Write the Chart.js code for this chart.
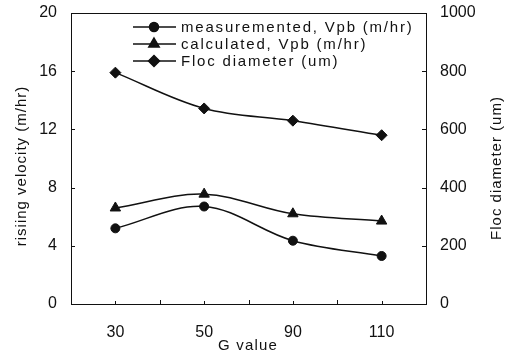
<!DOCTYPE html>
<html>
<head>
<meta charset="utf-8">
<script src="https://cdn.jsdelivr.net/npm/chart.js@4.4.1/dist/chart.umd.min.js"></script>
<style>
  html, body { margin: 0; padding: 0; background: #fff; }
  #chart { display: block; }
</style>
</head>
<body>
<canvas id="chart" width="508" height="356"></canvas>
<script>
// values
const gValues = ['30', '50', '90', '110'];
const measuredVpb = [5.2, 6.7, 4.35, 3.3];
const calculatedVpb = [6.6, 7.55, 6.2, 5.7];
const flocDiameter = [795, 672, 630, 580];

const seriesLabels = ['measuremented, Vpb (m/hr)', 'calculated, Vpb (m/hr)', 'Floc diameter (um)'];
const pointStyles = ['circle', 'triangle', 'rectRot'];
const pointSizes = [4.5, 6, 5.5];

const ink = '#111';
const fontFamily = '"Liberation Sans", Arial, sans-serif';

// frame, inward ticks, legend and axis titles
const decorations = {
    id: 'decorations',
    afterDraw(chart) {
        const ctx = chart.ctx;
        const area = chart.chartArea;
        const x = chart.scales.x, y = chart.scales.y, y1 = chart.scales.y1;

        ctx.save();
        ctx.strokeStyle = ink;
        ctx.lineWidth = 1;
        ctx.strokeRect(Math.round(area.left) + 0.5, Math.round(area.top) + 0.5,
            Math.round(area.right - area.left), Math.round(area.bottom - area.top));

        // small inward ticks
        ctx.beginPath();
        y.ticks.forEach(function (t) {
            const py = Math.round(y.getPixelForValue(t.value)) + 0.5;
            ctx.moveTo(area.left, py); ctx.lineTo(area.left + 4, py);
        });
        y1.ticks.forEach(function (t) {
            const py = Math.round(y1.getPixelForValue(t.value)) + 0.5;
            ctx.moveTo(area.right, py); ctx.lineTo(area.right - 4, py);
        });
        for (let i = 0; i < gValues.length; i++) {
            const px = Math.round(x.getPixelForValue(i)) + 0.5;
            ctx.moveTo(px, area.bottom); ctx.lineTo(px, area.bottom - 3);
            if (i > 0) {
                const mid = Math.round((x.getPixelForValue(i) + x.getPixelForValue(i - 1)) / 2) + 0.5;
                ctx.moveTo(mid, area.bottom); ctx.lineTo(mid, area.bottom - 4);
            }
        }
        ctx.stroke();

        // legend
        const rowsY = [27, 44, 61];
        chart.data.datasets.forEach(function (ds, i) {
            const ly = rowsY[i];
            ctx.strokeStyle = ink;
            ctx.lineWidth = 1.5;
            ctx.beginPath();
            ctx.moveTo(133, ly); ctx.lineTo(176, ly);
            ctx.stroke();
            ctx.fillStyle = ink;
            Chart.helpers.drawPoint(ctx, { pointStyle: ds.pointStyle, radius: ds.pointRadius, borderWidth: 1, rotation: 0 }, 154, ly);
            ctx.fill();
            ctx.font = '15px ' + fontFamily;
            ctx.letterSpacing = '1.8px';
            ctx.textAlign = 'left';
            ctx.textBaseline = 'middle';
            ctx.fillText(ds.label, 181, ly + 1);
        });

        // axis titles
        ctx.fillStyle = ink;
        ctx.font = '15px ' + fontFamily;
        ctx.letterSpacing = '1.2px';
        ctx.textAlign = 'center';
        ctx.textBaseline = 'middle';
        ctx.fillText('G value', 248, 346);

        ctx.letterSpacing = '1px';
        ctx.save();
        ctx.translate(22, 166);
        ctx.rotate(-Math.PI / 2);
        ctx.fillText('risiing velocity (m/hr)', 0, 0);
        ctx.restore();

        ctx.save();
        ctx.translate(497, 168);
        ctx.rotate(-Math.PI / 2);
        ctx.fillText('Floc diameter (um)', 0, 0);
        ctx.restore();
        ctx.restore();
    }
};

function seriesDataset(i, data, axis) {
    return {
        label: seriesLabels[i],
        data: data,
        yAxisID: axis,
        borderColor: ink,
        backgroundColor: ink,
        borderWidth: 1.5,
        pointStyle: pointStyles[i],
        pointRadius: pointSizes[i],
        pointBorderWidth: 1,
        tension: 0.35,
        fill: false,
    };
}

const plainNumber = function (v) { return String(v); };
const fixedWidth = function (w) {
    return function (s) { s.width = w; s.paddingTop = 0; s.paddingBottom = 0; };
};

new Chart(document.getElementById('chart'), {
    type: 'line',
    data: {
        labels: gValues,
        datasets: [
            seriesDataset(0, measuredVpb, 'y'),
            seriesDataset(1, calculatedVpb, 'y'),
            seriesDataset(2, flocDiameter, 'y1'),
        ],
    },
    options: {
        responsive: false,
        animation: false,
        layout: { padding: { top: 13, left: 0, right: 0, bottom: 0 } },
        plugins: { legend: { display: false }, tooltip: { enabled: false } },
        scales: {
            x: {
                offset: true,
                grid: { display: false, drawTicks: false },
                border: { display: false },
                ticks: { color: ink, font: { family: fontFamily, size: 16 }, padding: 19 },
                afterFit: function (s) { s.height = 52; s.paddingLeft = 0; s.paddingRight = 0; },
            },
            y: {
                position: 'left',
                min: 0, max: 20,
                grid: { display: false, drawTicks: false },
                border: { display: false },
                ticks: { stepSize: 4, color: ink, font: { family: fontFamily, size: 16 }, padding: 14, callback: plainNumber },
                afterFit: fixedWidth(71),
            },
            y1: {
                position: 'right',
                min: 0, max: 1000,
                grid: { display: false, drawTicks: false },
                border: { display: false },
                ticks: { stepSize: 200, color: ink, font: { family: fontFamily, size: 16 }, padding: 14, callback: plainNumber },
                afterFit: fixedWidth(82),
            },
        },
    },
    plugins: [decorations],
});
</script>
</body>
</html>
